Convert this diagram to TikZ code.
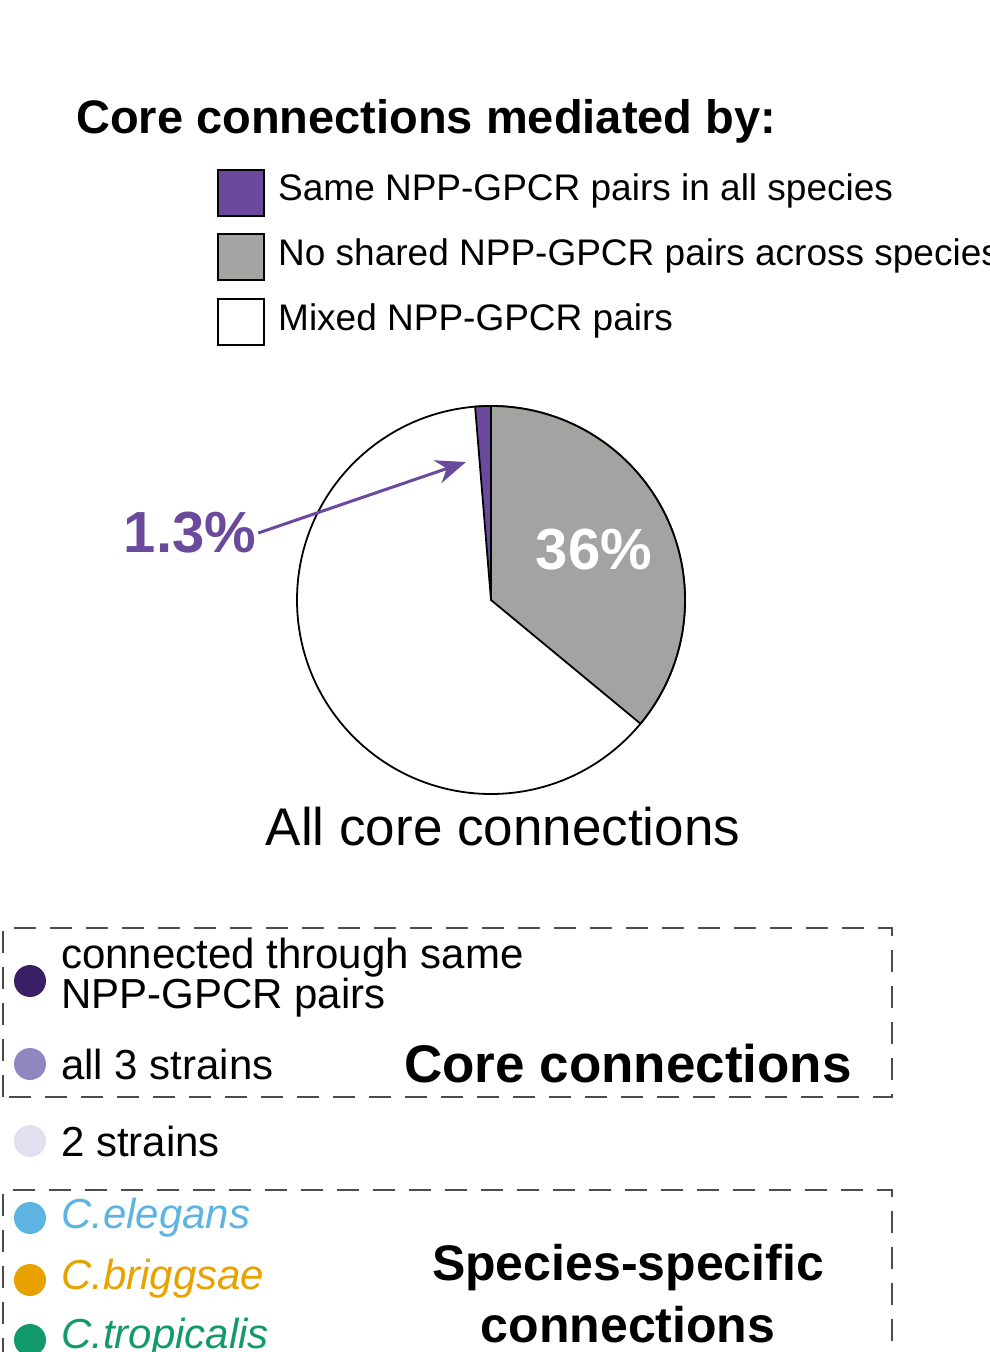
\documentclass[tikz,border=0pt]{standalone}
\usepackage{fontspec}
\setmainfont{Liberation Sans}
\usetikzlibrary{arrows.meta}
\definecolor{pur}{HTML}{6B4A9E}
\definecolor{gr}{HTML}{A3A3A1}
\definecolor{dpur}{HTML}{3B1F66}
\definecolor{lav}{HTML}{9086C0}
\definecolor{pale}{HTML}{E2E0F0}
\definecolor{sky}{HTML}{5DB4E3}
\definecolor{org}{HTML}{E8A200}
\definecolor{grn}{HTML}{139A6B}
\tikzset{leg/.style={draw=black,line width=1.8pt,minimum size=46pt,inner sep=0},
 lt/.style={anchor=west,font=\fontsize{37}{40}\selectfont,inner sep=0},
 bt/.style={anchor=west,font=\fontsize{42}{42}\selectfont,inner sep=0},
 dot/.style={circle,minimum size=32pt,inner sep=0},
 dbox/.style={dash pattern=on 22pt off 14pt,line width=1.3pt,gray!60!black}}
\begin{document}
\begin{tikzpicture}[x=1pt,y=-1pt]
\useasboundingbox (0,0) rectangle (990,1352);
\clip (0,0) rectangle (990,1352);
\node[anchor=west,inner sep=0,font=\fontsize{47}{50}\selectfont\bfseries] (title) at (76,121) {Core connections mediated by:};
\node[leg,fill=pur] (s1) at (241,193) {};
\node[leg,fill=gr] (s2) at (241,257) {};
\node[leg,fill=white] (s3) at (241,322) {};
\node[lt] (t1) at (278,191) {Same NPP-GPCR pairs in all species};
\node[lt] (t2) at (278,256) {No shared NPP-GPCR pairs across species};
\node[lt] (t3) at (278,321) {Mixed NPP-GPCR pairs};
% pie
\coordinate (c) at (491,600);
\draw[line width=1.8pt,fill=white] (c) circle[radius=194];
\draw[line width=1.8pt,fill=gr] (c) -- ++(0,-194) arc[start angle=-90,end angle=39.6,radius=194] -- cycle;
\draw[line width=1.8pt,fill=pur] (c) -- ++(0,-194) arc[start angle=-90,end angle=-94.7,radius=194] -- cycle;
\node[font=\fontsize{58}{60}\selectfont\bfseries,text=white] (p36) at (594,550) {36\%};
\node[font=\fontsize{58}{60}\selectfont\bfseries,text=pur,inner sep=2pt] (p13) at (190,533) {1.3\%};
\coordinate (tip) at (466,462);
\draw[pur,line width=3pt,-{Stealth[length=30pt,width=24pt]}] (p13.east) -- (tip);
\node[font=\fontsize{53}{56}\selectfont] (all) at (503,827) {All core connections};
% box 1
\draw[dbox] (3,1097) -- (3,928) -- (892,928) -- (892,1097) -- cycle;
\node[dot,fill=dpur] (d1) at (30,981) {};
\node[dot,fill=lav] (d2) at (30,1064) {};
\node[dot,fill=pale] (d3) at (30,1141) {};
\node[bt,align=left] (l1) at (61,978) {connected through same\\[-2pt]NPP-GPCR pairs};
\node[bt] (l2) at (61,1064) {all 3 strains};
\node[bt] (l3) at (61,1141) {2 strains};
\node[font=\fontsize{53}{56}\selectfont\bfseries] (cc) at (628,1064) {Core connections};
% box 2
\draw[dbox] (3,1360) -- (3,1190) -- (892,1190) -- (892,1360);
\node[dot,fill=sky] (d4) at (30,1218) {};
\node[dot,fill=org] (d5) at (30,1280) {};
\node[dot,fill=grn] (d6) at (30,1340) {};
\node[bt,text=sky,font=\fontsize{42}{42}\selectfont\itshape] (e) at (61,1218) {C.elegans};
\node[bt,text=org,font=\fontsize{42}{42}\selectfont\itshape] (b) at (61,1279) {C.briggsae};
\node[bt,text=grn,font=\fontsize{42}{42}\selectfont\itshape] (t) at (61,1338) {C.tropicalis};
\node[font=\fontsize{50}{62}\selectfont\bfseries,align=center] (ss) at (628,1294) {Species-specific\\connections};
\end{tikzpicture}
\end{document}
